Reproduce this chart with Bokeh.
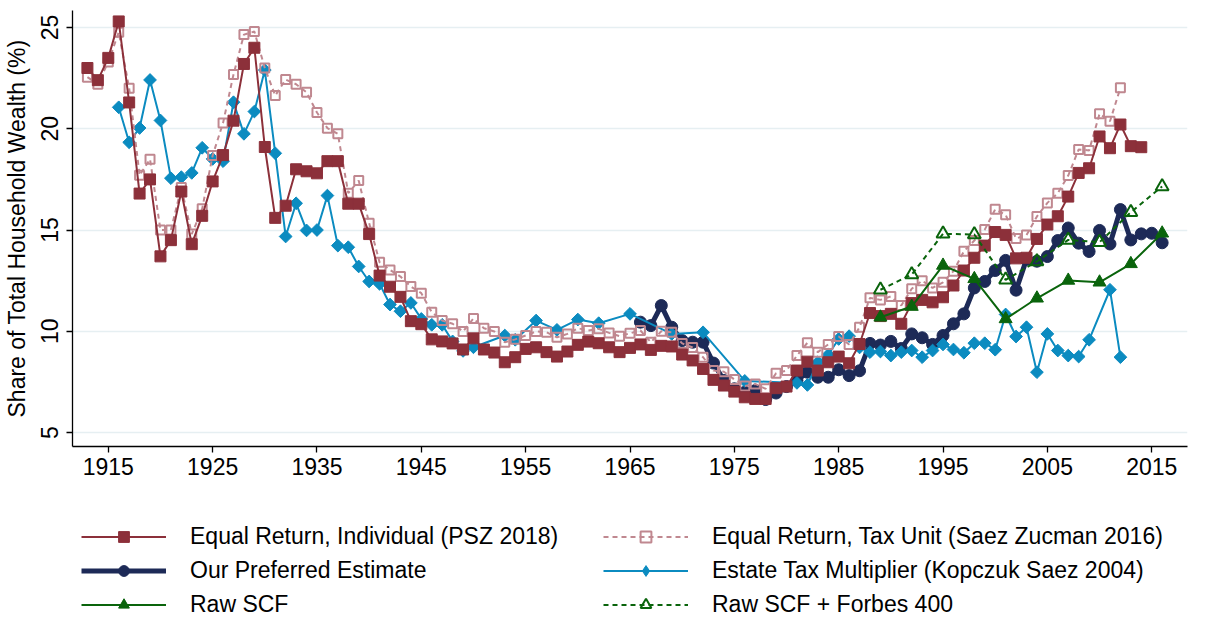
from bokeh.plotting import figure
from bokeh.layouts import column
from bokeh.models import Range1d, FixedTicker, Legend, LegendItem
from bokeh.embed import file_html
from bokeh.resources import INLINE

# ---------------- data ----------------
psz_years = list(range(1913, 2015))
psz_vals = [23.0, 22.4, 23.5, 25.3, 21.3, 16.8, 17.5, 13.7, 14.5, 16.9,
            14.3, 15.7, 17.4, 18.7, 20.4, 23.2, 24.0, 19.1, 15.6, 16.2,
            18.0, 17.9, 17.8, 18.4, 18.4, 16.3, 16.3, 14.8, 12.75, 12.2,
            11.7, 10.5, 10.35, 9.6, 9.5, 9.4, 9.1, 9.65, 9.1, 8.95,
            8.47, 8.72, 9.13, 9.21, 8.97, 8.75, 9.0, 9.33, 9.49, 9.41,
            9.21, 8.97, 9.18, 9.35, 9.08, 9.28, 9.25, 8.85, 8.56, 8.14,
            7.6, 7.32, 7.02, 6.74, 6.66, 6.66, 7.19, 7.27, 8.06, 8.5,
            8.06, 8.47, 8.75, 8.42, 9.37, 10.9, 10.75, 10.86, 10.37, 11.39,
            11.55, 11.43, 11.68, 12.26, 13.0, 13.63, 14.23, 14.9, 14.76, 13.6,
            13.63, 14.56, 15.27, 15.68, 16.65, 17.82, 18.05, 19.62, 19.04, 20.21,
            19.14, 19.09]

sz_years = list(range(1913, 2013))
sz_vals = [22.55, 22.2, 23.3, 24.77, 22.0, 17.7, 18.5, 15.0, 15.0, 17.1,
           14.8, 16.05, 18.68, 20.29, 22.68, 24.65, 24.8, 23.0, 21.64, 22.43,
           22.2, 21.8, 20.8, 20.03, 19.75, 16.82, 17.44, 15.34, 13.41, 13.03,
           12.7, 12.21, 11.88, 10.94, 10.53, 10.37, 9.99, 10.63, 10.15, 9.99,
           9.46, 9.6, 9.79, 9.99, 9.95, 9.7, 9.87, 10.15, 10.04, 10.12,
           9.92, 9.76, 9.9, 10.04, 9.46, 10.0, 9.95, 9.4, 9.2, 8.72,
           8.06, 8.0, 7.62, 7.3, 7.4, 7.16, 7.93, 8.06, 8.8, 9.43,
           8.97, 9.35, 9.74, 9.35, 10.2, 11.65, 11.55, 11.72, 11.27, 12.1,
           12.5, 12.14, 12.42, 12.97, 13.95, 14.48, 15.02, 16.02, 15.75, 14.58,
           14.75, 15.67, 16.34, 16.82, 17.69, 18.98, 18.93, 20.74, 20.37, 22.02]

pref_years = list(range(1966, 2017))
pref_vals = [10.45, 10.28, 11.27, 10.2, 9.54, 9.46, 9.46, 8.43, 7.57, 7.16,
             6.99, 7.07, 6.63, 6.95, 7.27, 7.57, 7.98, 7.73, 7.73, 8.1,
             7.81, 8.05, 9.4, 9.32, 9.5, 9.15, 9.87, 9.68, 9.35, 9.79,
             10.37, 10.86, 12.14, 12.46, 13.0, 13.5, 12.03, 13.55, 13.46, 13.69,
             14.48, 15.1, 14.35, 13.94, 14.98, 14.31, 16.01, 14.51, 14.81, 14.84,
             14.37]

ks_years = list(range(1916, 1951)) + [1953, 1954, 1956, 1958, 1960, 1962, 1965,
            1969, 1972, 1976, 1981] + list(range(1982, 2010)) + [2011, 2012]
ks_vals = [21.06, 19.33, 20.04, 22.41, 20.41, 17.56, 17.61, 17.82, 19.06, 18.51,
           18.4, 21.31, 19.75, 20.85, 22.9, 18.79, 14.68, 16.32, 14.98, 15.0,
           16.7, 14.23, 14.15, 13.2, 12.46, 12.34, 11.32, 10.99, 11.4, 10.61,
           10.32, 10.32, 9.5, 9.03, 9.21,
           9.79, 9.58, 10.53, 10.07, 10.58, 10.4, 10.86, 9.87, 9.95, 7.55, 7.45,
           7.35, 8.47, 8.84, 9.62, 9.76, 9.2, 8.97, 9.0, 8.8, 8.97,
           9.05, 8.72, 9.05, 9.35, 9.1, 8.94, 9.41, 9.41, 9.09, 10.83,
           9.74, 10.2, 7.98, 9.87, 9.05, 8.8, 8.75, 9.58,
           12.05, 8.72]

scf_years = [1989, 1992, 1995, 1998, 2001, 2004, 2007, 2010, 2013, 2016]
scf_vals = [10.69, 11.22, 13.25, 12.59, 10.61, 11.63, 12.51, 12.42, 13.33, 14.84]
forbes_vals = [12.05, 12.8, 14.81, 14.78, 12.54, 13.45, 14.51, 14.4, 15.88, 17.15]

x_ticks = [1915, 1925, 1935, 1945, 1955, 1965, 1975, 1985, 1995, 2005, 2015]
y_ticks = [5, 10, 15, 20, 25]

labels = ["Equal Return, Individual (PSZ 2018)",
          "Equal Return, Tax Unit (Saez Zucman 2016)",
          "Our Preferred Estimate",
          "Estate Tax Multiplier (Kopczuk Saez 2004)",
          "Raw SCF",
          "Raw SCF + Forbes 400"]

RED = "#8c303a"
PINK = "#c08890"
NAVY = "#1d2a57"
BLUE = "#0b8bc0"
GREEN = "#0a640c"
FONT = "Liberation Sans"
FS = "23px"

# series styles (drawn bottom to top)
series = [
    # key, years, values, color, line_width, dash, marker, size, fill, angle, legend marker
    ("pref", pref_years, pref_vals, NAVY, 5, "solid", "circle", 12, NAVY, 0.0, "circle"),
    ("ks", ks_years, ks_vals, BLUE, 2, "solid", "square", 9, BLUE, 0.785398, "diamond"),
    ("sz", sz_years, sz_vals, PINK, 2, "5 4", "square", 9, None, 0.0, "square"),
    ("psz", psz_years, psz_vals, RED, 2, "solid", "square", 11, RED, 0.0, "square"),
    ("scf", scf_years, scf_vals, GREEN, 2, "solid", "triangle", 13, GREEN, 0.0, "triangle"),
    ("fb", scf_years, forbes_vals, GREEN, 2, "5 4", "triangle", 13, None, 0.0, "triangle"),
]


def draw(fig, s, legend_marker=False):
    key, xs, ys, col, lw, dash, mk, sz, fill, ang, lmk = s
    ln = fig.line(xs, ys, line_color=col, line_width=lw, line_dash=dash)
    sc = fig.scatter(xs, ys, marker=(lmk if legend_marker else mk), size=sz,
                     angle=(0.0 if legend_marker else ang),
                     fill_color=fill, line_color=col,
                     line_width=(2 if fill is None else 1))
    return ln, sc


# ---------------- main chart ----------------
p = figure(width=1200, height=493,
           x_range=Range1d(1911.57, 2018.43), y_range=Range1d(4.31, 25.84),
           output_backend="svg", toolbar_location=None,
           min_border_left=65, min_border_right=13,
           min_border_top=10, min_border_bottom=47)
p.outline_line_color = None
p.background_fill_color = "white"
p.border_fill_color = "white"

p.xgrid.grid_line_color = None
p.ygrid.grid_line_color = "#e6eff2"
p.ygrid.grid_line_width = 1.5
p.ygrid.ticker = FixedTicker(ticks=y_ticks)

p.xaxis.ticker = FixedTicker(ticks=x_ticks)
p.yaxis.ticker = FixedTicker(ticks=y_ticks)
for ax in (p.xaxis[0], p.yaxis[0]):
    ax.axis_line_color = "black"
    ax.axis_line_width = 1.3
    ax.major_tick_line_color = "black"
    ax.major_tick_line_width = 1.3
    ax.major_tick_in = 0
    ax.major_tick_out = 6
    ax.minor_tick_line_color = None
    ax.major_label_text_font = FONT
    ax.major_label_text_font_size = FS
    ax.major_label_text_color = "black"
    ax.axis_label_text_font = FONT
    ax.axis_label_text_font_size = FS
    ax.axis_label_text_font_style = "normal"
    ax.axis_label_text_color = "black"
p.xaxis.major_label_standoff = 5
p.yaxis.major_label_orientation = "vertical"
p.yaxis.major_label_standoff = 8
p.yaxis.axis_label = "Share of Total Household Wealth (%)"
p.yaxis.axis_label_standoff = 9

for s in series:
    draw(p, s)

# ---------------- legend strip ----------------
q = figure(width=1200, height=125, x_range=Range1d(0, 1), y_range=Range1d(0, 1),
           x_axis_type=None, y_axis_type=None,
           output_backend="svg", toolbar_location=None,
           min_border_left=0, min_border_right=0, min_border_top=0, min_border_bottom=0)
q.grid.visible = False
q.outline_line_color = None
q.background_fill_color = "white"
q.border_fill_color = "white"

rend = {}
for s in series:
    rend[s[0]] = list(draw(q, s, legend_marker=True))


def make_legend(items, x, y):
    return Legend(items=items, location=(x, y), orientation="vertical",
                  padding=0, margin=0, spacing=7,
                  glyph_width=85, glyph_height=27, label_height=27,
                  label_standoff=24,
                  label_text_font=FONT, label_text_font_size=FS,
                  label_text_color="black",
                  background_fill_alpha=0, border_line_color=None)


leg1 = make_legend([
    LegendItem(label=labels[0], renderers=rend["psz"]),
    LegendItem(label=labels[2], renderers=rend["pref"]),
    LegendItem(label=labels[4], renderers=rend["scf"]),
], 9, 0)
leg2 = make_legend([
    LegendItem(label=labels[1], renderers=rend["sz"]),
    LegendItem(label=labels[3], renderers=rend["ks"]),
    LegendItem(label=labels[5], renderers=rend["fb"]),
], 531, 0)
q.add_layout(leg1, "center")
q.add_layout(leg2, "center")

open("out.html", "w").write(file_html(column(p, q, spacing=0), INLINE))
